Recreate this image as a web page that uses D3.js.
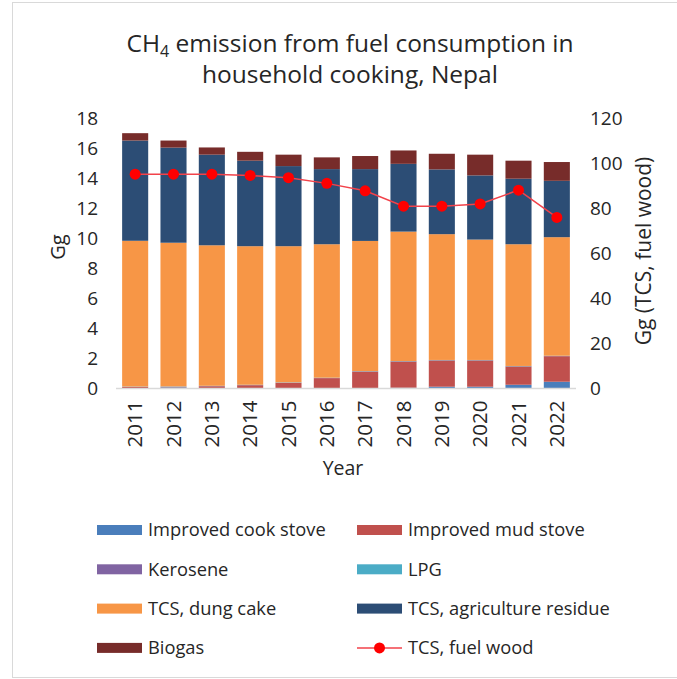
<!DOCTYPE html>
<html>
<head>
<meta charset="utf-8">
<script src="https://cdn.jsdelivr.net/npm/d3@7"></script>
<style>
  body { margin: 0; background: #fff; }
  text { font-family: "Open Sans", "Liberation Sans", sans-serif; fill: #262626; }
</style>
</head>
<body>
<script>
// data
var years = ['2011','2012','2013','2014','2015','2016','2017','2018','2019','2020','2021','2022'];
var improvedCookStove = [0.02, 0.08, 0.02, 0.02, 0.02, 0.02, 0.03, 0.05, 0.12, 0.12, 0.25, 0.45];
var improvedMudStove  = [0.08, 0.03, 0.13, 0.2, 0.36, 0.67, 1.1, 1.75, 1.75, 1.75, 1.22, 1.7];
var kerosene          = [0.01, 0.01, 0.01, 0.01, 0.01, 0.01, 0.01, 0.01, 0.01, 0.01, 0.01, 0.01];
var lpg               = [0.02, 0.02, 0.02, 0.02, 0.02, 0.02, 0.02, 0.02, 0.02, 0.02, 0.02, 0.02];
var dungCake          = [9.70, 9.56, 9.35, 9.22, 9.06, 8.88, 8.66, 8.61, 8.37, 8.01, 8.10, 7.89];
var agriResidue       = [6.67, 6.33, 6.03, 5.69, 5.33, 5.0, 4.78, 4.51, 4.31, 4.27, 4.36, 3.75];
var biogas            = [0.49, 0.47, 0.48, 0.59, 0.76, 0.78, 0.87, 0.89, 1.04, 1.38, 1.2, 1.25];
var fuelWood          = [95.1, 95.1, 95.1, 94.5, 93.5, 91.0, 87.7, 80.9, 80.9, 81.9, 88.0, 75.9];
var leftTicks  = [0, 2, 4, 6, 8, 10, 12, 14, 16, 18];
var rightTicks = [0, 20, 40, 60, 80, 100, 120];

var series = [
  {name: 'Improved cook stove', values: improvedCookStove, color: '#4a7ebb'},
  {name: 'Improved mud stove', values: improvedMudStove, color: '#c0504d'},
  {name: 'Kerosene', values: kerosene, color: '#8064a2'},
  {name: 'LPG', values: lpg, color: '#4bacc6'},
  {name: 'TCS, dung cake', values: dungCake, color: '#f79646'},
  {name: 'TCS, agriculture residue', values: agriResidue, color: '#2c4d75'},
  {name: 'Biogas', values: biogas, color: '#772c2a'}
];

var W = 677, H = 679;
var svg = d3.select('body').append('svg').attr('width', W).attr('height', H);

// frame
svg.append('rect').attr('x', 12.5).attr('y', 2.5).attr('width', 680).attr('height', 675)
  .attr('fill', 'none').attr('stroke', '#d9d9d9');

var plotTop = 118, plotBottom = 388.5;
var x = d3.scaleBand().domain(years).range([116, 576]).paddingInner(0.32).paddingOuter(0.16);
var y = d3.scaleLinear().domain([0, 18]).range([plotBottom, plotTop]);
var y2 = d3.scaleLinear().domain([0, 120]).range([plotBottom, plotTop]);

var table = years.map(function(yr, i) {
  var row = {year: yr};
  series.forEach(function(s) { row[s.name] = s.values[i]; });
  return row;
});
var stacked = d3.stack().keys(series.map(function(s) { return s.name; }))(table);

svg.append('g').selectAll('g')
  .data(stacked)
  .enter().append('g')
  .attr('fill', function(d, i) { return series[i].color; })
  .selectAll('rect')
  .data(function(d) { return d; })
  .enter().append('rect')
  .attr('x', function(d) { return x(d.data.year); })
  .attr('y', function(d) { return y(d[1]); })
  .attr('height', function(d) { return y(d[0]) - y(d[1]); })
  .attr('width', x.bandwidth());

// baseline
svg.append('line').attr('x1', 116).attr('x2', 576).attr('y1', plotBottom).attr('y2', plotBottom)
  .attr('stroke', '#d9d9d9').attr('stroke-width', 1.5);

// fuel wood line
var line = d3.line()
  .x(function(d, i) { return x(years[i]) + x.bandwidth() / 2; })
  .y(function(d) { return y2(d); });
svg.append('path').datum(fuelWood).attr('d', line)
  .attr('fill', 'none').attr('stroke', '#f2424a').attr('stroke-width', 1.5);
svg.selectAll('circle.fw').data(fuelWood).enter().append('circle')
  .attr('class', 'fw')
  .attr('cx', function(d, i) { return x(years[i]) + x.bandwidth() / 2; })
  .attr('cy', function(d) { return y2(d); })
  .attr('r', 5.5).attr('fill', '#ff0000');

// axes
var leftAxis = svg.append('g').attr('transform', 'translate(100,0)')
  .call(d3.axisLeft(y).tickValues(leftTicks).tickSize(0).tickPadding(2));
var rightAxis = svg.append('g').attr('transform', 'translate(588,0)')
  .call(d3.axisRight(y2).tickValues(rightTicks).tickSize(0).tickPadding(2));
var bottomAxis = svg.append('g').attr('transform', 'translate(0,' + plotBottom + ')')
  .call(d3.axisBottom(x).tickSize(0));
[leftAxis, rightAxis, bottomAxis].forEach(function(a) {
  a.select('.domain').remove();
  a.selectAll('text').attr('font-size', 19).attr('font-family', '"Open Sans", sans-serif').attr('fill', '#404040');
});
bottomAxis.selectAll('text')
  .attr('font-size', 20.5)
  .attr('transform', 'rotate(-90)')
  .attr('text-anchor', 'end')
  .attr('dy', '0.35em')
  .attr('x', -12).attr('y', 0);

// axis titles
svg.append('text').attr('transform', 'translate(65,247) rotate(-90)')
  .attr('text-anchor', 'middle').attr('font-size', 20).text('Gg');
svg.append('text').attr('transform', 'translate(651,251) rotate(-90)')
  .attr('text-anchor', 'middle').attr('font-size', 21).text('Gg (TCS, fuel wood)');
svg.append('text').attr('x', 343).attr('y', 475)
  .attr('text-anchor', 'middle').attr('font-size', 19.5).text('Year');

// title
var t1 = svg.append('text').attr('x', 350).attr('y', 52).attr('text-anchor', 'middle').attr('font-size', 24.5);
t1.append('tspan').text('CH');
t1.append('tspan').attr('font-size', 16).attr('dy', 5).text('4');
t1.append('tspan').attr('dy', -5).text(' emission from fuel consumption in');
svg.append('text').attr('x', 350).attr('y', 83).attr('text-anchor', 'middle').attr('font-size', 24.5)
  .text('household cooking, Nepal');

// legend
var legendItems = series.slice();
legendItems.push({name: 'TCS, fuel wood', color: '#ff0000', isLine: true});
var lg = svg.append('g').selectAll('g').data(legendItems).enter().append('g')
  .attr('transform', function(d, i) {
    return 'translate(' + (i % 2 === 0 ? 97 : 357) + ',' + (530 + Math.floor(i / 2) * 39.3) + ')';
  });
lg.each(function(d) {
  var g = d3.select(this);
  if (d.isLine) {
    g.append('line').attr('x1', 0).attr('x2', 45).attr('y1', 0).attr('y2', 0)
      .attr('stroke', '#f2424a').attr('stroke-width', 1.5);
    g.append('circle').attr('cx', 22.5).attr('cy', 0).attr('r', 5.5).attr('fill', '#ff0000');
  } else {
    g.append('rect').attr('x', 0).attr('y', -5).attr('width', 45).attr('height', 10).attr('fill', d.color);
  }
  g.append('text').attr('x', 51).attr('y', 0).attr('dy', '0.35em').attr('font-size', 18.3)
    .attr('fill', '#404040').text(d.name);
});
</script>
</body>
</html>
